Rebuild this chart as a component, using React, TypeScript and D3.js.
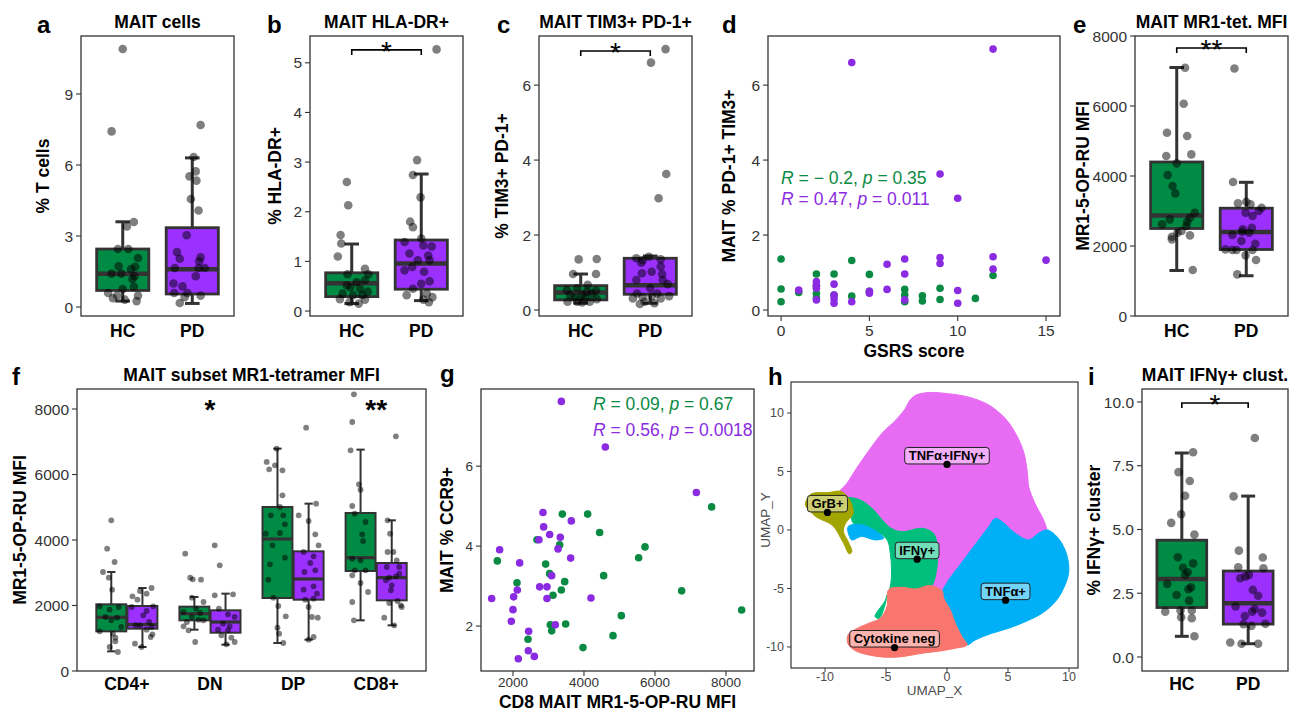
import React from 'react';
import * as d3 from 'd3';

const FONT = '"Liberation Sans", Arial, Helvetica, sans-serif';
const DARK = '#333333';
const GREEN = '#008b45';
const PURPLE = '#9b30ff';
const SC_GREEN = '#0a8a42';
const SC_PURPLE = '#8a2be2';

// ---------- data ----------
const groups = ['HC', 'PD'];
const subsets = ['CD4+', 'DN', 'DP', 'CD8+'];

// box stats: [lower whisker, q1, median, q3, upper whisker]
const aStats = [[0.25, 0.7, 1.4, 2.45, 3.6], [0.15, 0.55, 1.6, 3.35, 6.3]];
const bStats = [[0.15, 0.29, 0.56, 0.77, 1.35], [0.21, 0.44, 0.96, 1.43, 2.76]];
const cStats = [[0.18, 0.27, 0.47, 0.65, 0.96], [0.18, 0.42, 0.66, 1.38, 1.44]];
const eStats = [[1300, 2500, 2870, 4400, 7100], [1150, 1900, 2400, 3080, 3820]];
const iStats = [[0.81, 1.94, 3.06, 4.58, 8.0], [0.52, 1.29, 2.11, 3.37, 6.31]];
const fStatsHC = [[600, 1211, 1640, 2036, 3023], [1262, 1547, 1750, 1965, 2260], [855, 2229, 4031, 5008, 6790], [1547, 3054, 3461, 4825, 6760]];
const fStatsPD = [[733, 1293, 1420, 1985, 2535], [804, 1170, 1496, 1853, 2362], [957, 2178, 2810, 3654, 5110], [1395, 2158, 2850, 3298, 4601]];

// jittered points: [jitter in category units, value]
const aHC = [[0, 10.9], [-0.16, 7.42], [0.16, 3.59], [0.06, 3.4], [-0.07, 2.45], [0.08, 2.45], [0.22, 2.07], [-0.06, 1.72], [0.12, 1.6], [0.18, 1.7], [-0.16, 1.41], [-0.02, 1.41], [0.14, 1.18], [0.17, 1.3], [0.16, 0.85], [0, 0.76], [-0.21, 0.59], [-0.08, 0.48], [0.22, 0.48], [-0.14, 0.37], [0.03, 0.31], [0.2, 0.25]];
const aPD = [[0.12, 7.69], [0.02, 6.34], [0.05, 5.73], [0.06, 5.34], [-0.04, 5.52], [-0.02, 4.56], [0.09, 4.08], [-0.08, 3.03], [-0.22, 2.32], [-0.18, 2.04], [0.12, 2.1], [0.1, 1.93], [-0.25, 1.65], [0.09, 1.65], [0.18, 1.65], [0.05, 1.3], [-0.27, 0.99], [-0.14, 0.87], [-0.26, 0.59], [-0.07, 0.59], [0.12, 0.48], [-0.11, 0.41], [-0.18, 0.17]];
const bHC = [[-0.07, 2.6], [-0.05, 2.13], [-0.16, 1.53], [-0.15, 1.36], [-0.2, 1.1], [0.19, 0.85], [-0.06, 0.74], [0.24, 0.74], [0.07, 0.58], [0.19, 0.62], [-0.07, 0.52], [-0.02, 0.48], [0.12, 0.45], [0.23, 0.39], [-0.13, 0.35], [0.02, 0.32], [0.15, 0.32], [-0.17, 0.24], [-0.03, 0.18], [0.1, 0.15], [0.19, 0.23]];
const bPD = [[0.22, 5.27], [-0.06, 3.04], [-0.12, 2.74], [-0.01, 2.29], [-0.16, 1.8], [-0.12, 1.69], [-0.24, 1.39], [0, 1.46], [0.03, 1.32], [0.15, 1.3], [-0.17, 1.16], [0.1, 1.12], [-0.05, 1.02], [0.12, 1.02], [-0.24, 0.82], [-0.13, 0.89], [0.04, 0.79], [0.12, 0.6], [0, 0.55], [-0.12, 0.45], [0.08, 0.35], [-0.21, 0.32], [0.16, 0.28], [0.03, 0.23], [0.11, 0.18]];
const cHC = [[-0.03, 1.35], [0.23, 1.36], [-0.11, 0.96], [0.22, 0.96], [0.1, 0.67], [-0.2, 0.53], [-0.05, 0.58], [0.09, 0.49], [0.22, 0.52], [-0.15, 0.4], [0.02, 0.4], [0.16, 0.44], [-0.08, 0.33], [0.06, 0.31], [0.23, 0.29], [-0.19, 0.22], [-0.05, 0.22], [0.02, 0.2], [0.13, 0.22]];
const cPD = [[0.22, 6.96], [0.01, 6.6], [0.23, 3.63], [0.12, 2.98], [-0.02, 1.42], [-0.2, 1.38], [-0.11, 1.33], [0.15, 1.35], [-0.13, 1.26], [0.15, 1.16], [-0.12, 0.98], [0.02, 1.02], [0.17, 0.96], [-0.2, 0.8], [0.18, 0.8], [0.25, 0.69], [0, 0.58], [-0.19, 0.44], [0.1, 0.44], [-0.11, 0.34], [0.02, 0.36], [0.27, 0.37], [-0.25, 0.31], [0.15, 0.31], [-0.08, 0.22], [-0.15, 0.16], [0.06, 0.18]];
const eHC = [[0.12, 7092], [0.1, 6064], [-0.14, 5236], [0.15, 5141], [-0.15, 4570], [0.21, 4617], [0, 4360], [-0.13, 4027], [-0.06, 3713], [-0.02, 3503], [0.26, 2951], [0.19, 2808], [-0.1, 2761], [0.15, 2685], [-0.21, 2618], [0.14, 2570], [0.07, 2428], [0.01, 2380], [-0.07, 2266], [0.19, 2304], [-0.07, 2190], [0.23, 1314]];
const ePD = [[-0.17, 7073], [-0.19, 3827], [-0.12, 3218], [0, 3265], [0.06, 3190], [0.22, 3094], [0.18, 2999], [-0.01, 2951], [0.09, 2856], [-0.05, 2475], [0.08, 2523], [-0.2, 2313], [-0.06, 2409], [0.04, 2380], [-0.07, 2142], [0.13, 2066], [-0.3, 1904], [-0.2, 1885], [-0.14, 1885], [0.09, 1885], [-0.01, 1733], [0.14, 1600], [-0.13, 1190]];
const iHC = [[0.17, 8.03], [-0.05, 7.25], [0.12, 6.9], [0.05, 6.32], [-0.01, 5.6], [-0.16, 5.26], [0.19, 4.8], [-0.06, 3.91], [0.17, 3.67], [0.02, 3.5], [0.09, 3.32], [0.05, 3.22], [-0.22, 2.86], [0.14, 2.73], [0.1, 2.66], [-0.08, 2.43], [0.11, 2.21], [-0.25, 1.78], [-0.02, 1.82], [0.15, 1.82], [-0.01, 1.56], [0.15, 1.52], [0.19, 0.81]];
const iPD = [[0.1, 8.59], [-0.22, 6.3], [-0.14, 4.17], [0.22, 3.9], [-0.15, 3.52], [0.23, 3.48], [-0.12, 3.09], [-0.04, 3.15], [0.01, 3.22], [0.07, 2.63], [0.15, 2.4], [-0.19, 1.98], [0.1, 1.88], [0.21, 1.74], [-0.05, 1.61], [0.06, 1.78], [-0.07, 1.29], [0.26, 1.3], [0.05, 1.22], [-0.27, 0.57], [-0.1, 0.52], [0.15, 0.52]];

const fCd4HC = [[0, 4601], [-0.05, 3736], [0.04, 3329], [-0.1, 3023], [-0.03, 2850], [0.01, 2484], [-0.14, 1975], [-0.02, 1873], [0.09, 1954], [-0.07, 1649], [0.07, 1629], [0, 1547], [-0.14, 1211], [0.02, 1140], [0.12, 1344], [0.05, 1018], [-0.02, 733], [0.08, 580], [0.05, 906]];
const fCd4PD = [[0.11, 2535], [-0.03, 2443], [0.05, 2362], [-0.12, 2280], [-0.06, 2178], [-0.13, 1954], [0.13, 1975], [0.05, 1832], [0.01, 1700], [0.08, 1496], [-0.03, 1395], [0.11, 1344], [0.05, 1262], [0.1, 1038], [-0.09, 835], [-0.01, 733], [0.12, 1120], [-0.08, 1400]];
const fDnHC = [[-0.11, 3583], [-0.05, 2850], [-0.02, 2800], [0.08, 2789], [-0.03, 2240], [0.11, 2107], [-0.13, 1802], [0.02, 1904], [0.07, 1771], [-0.03, 1649], [-0.09, 1496], [0.05, 1568], [0.11, 1547], [-0.07, 1242], [0.01, 885], [-0.13, 1364]];
const fDnPD = [[-0.13, 3838], [-0.07, 3227], [-0.13, 2311], [0.09, 2341], [-0.08, 1904], [0.03, 1731], [0.11, 1649], [-0.03, 1446], [0.05, 1364], [-0.09, 1262], [0.03, 1242], [-0.05, 1089], [0.07, 1018], [0.11, 885], [0.01, 814]];
const fDpHC = [[-0.13, 6383], [-0.01, 6790], [-0.1, 6159], [-0.03, 6281], [0.06, 6128], [0.06, 5365], [0.03, 5008], [-0.08, 4754], [0.07, 4754], [0.09, 4479], [-0.14, 4194], [0.03, 4214], [-0.06, 3838], [0.09, 3461], [-0.09, 3258], [-0.11, 2789], [-0.05, 2240], [0.01, 1985], [0.1, 1670], [0, 1323], [0.02, 1140], [0.07, 855]];
const fDpPD = [[-0.03, 7431], [0.09, 5110], [-0.12, 4754], [0, 4581], [0.08, 4174], [0.12, 3838], [-0.06, 3634], [0.06, 3502], [0.02, 3298], [0.08, 3074], [-0.05, 3023], [0.06, 2586], [-0.06, 2484], [0.1, 2362], [-0.04, 2178], [0.06, 2209], [0, 1954], [0.04, 1649], [0.11, 1629], [0.06, 1038], [0, 957]];
const fCd8HC = [[-0.08, 8449], [-0.1, 7604], [-0.12, 6739], [-0.02, 5700], [0, 5538], [-0.1, 5039], [-0.07, 4805], [0.06, 4550], [0.02, 4174], [0.03, 3970], [-0.1, 3431], [0, 3380], [-0.07, 3074], [0.06, 3074], [-0.1, 2922], [0, 2687], [0.09, 2413], [-0.1, 2107], [-0.08, 1547]];
const fCd8PD = [[0.05, 7167], [-0.05, 4601], [-0.02, 4194], [-0.05, 3634], [0.02, 3634], [0.06, 3380], [-0.06, 3176], [0.09, 3176], [0.09, 2973], [-0.03, 2850], [0.05, 2891], [-0.07, 2769], [0, 2616], [-0.01, 2464], [-0.03, 2077], [0.11, 2005], [0.07, 2138], [-0.09, 1629], [0.03, 1395], [0.12, 1954]];
const fPointsHC = [fCd4HC, fDnHC, fDpHC, fCd8HC];
const fPointsPD = [fCd4PD, fDnPD, fDpPD, fCd8PD];

// d: [GSRS score, % PD-1+ TIM3+]
const dHC = [[0, 1.36], [0, 0.56], [0, 0.22], [1, 0.47], [2, 0.96], [2, 0.65], [2, 0.44], [2, 0.32], [3, 0.96], [3, 0.4], [4, 1.32], [4, 0.37], [5, 0.95], [5, 0.5], [7, 0.55], [7, 0.4], [7, 0.22], [8, 0.38], [8, 0.24], [9, 0.58], [9, 0.28], [11, 0.31], [12, 0.92]];
const dPD = [[1, 0.53], [2, 0.76], [2, 0.65], [2, 0.58], [2, 0.27], [3, 0.69], [3, 0.4], [3, 0.3], [3, 0.18], [4, 6.6], [4, 0.22], [5, 0.5], [5, 0.45], [6, 1.22], [6, 0.55], [7, 1.36], [7, 0.96], [7, 0.27], [9, 3.63], [9, 1.4], [9, 1.24], [10, 2.98], [10, 0.52], [10, 0.18], [12, 6.96], [12, 1.42], [12, 1.09], [15, 1.33]];

// g: [CD8 MAIT MR1-5-OP-RU MFI, % CCR9+]
const gHC = [[7596, 4.98], [3390, 4.8], [4103, 4.8], [4441, 4.34], [2676, 4.16], [3315, 4.03], [5719, 3.98], [5540, 3.71], [1559, 3.63], [2920, 3.55], [3033, 3.31], [4554, 3.26], [3456, 3.11], [2113, 3.08], [3362, 2.9], [3127, 2.77], [6751, 2.88], [8441, 2.4], [5052, 2.26], [3052, 2.03], [3484, 2.05], [3090, 1.88], [4817, 1.76], [2423, 1.67], [3972, 1.46]];
const gPD = [[3362, 7.62], [4601, 6.48], [7165, 5.34], [2845, 4.84], [3643, 4.63], [2864, 4.48], [3033, 4.29], [3333, 4.22], [2732, 4.16], [3268, 3.93], [1624, 3.91], [3624, 3.7], [2188, 3.58], [3090, 3.26], [2751, 2.98], [2958, 2.98], [2122, 2.9], [2019, 2.73], [1399, 2.69], [2958, 2.69], [4197, 2.7], [2000, 2.41], [1953, 2.12], [3193, 2.03], [2441, 1.87], [2432, 1.38], [2601, 1.24], [2150, 1.18]];

// h: UMAP cluster outlines (UMAP_X, UMAP_Y)
const umapMagenta = [[-8.8, 3.2], [-8.2, 4.0], [-7.4, 5.3], [-6.4, 6.8], [-5.3, 8.3], [-4.2, 9.4], [-3.4, 10.4], [-3.1, 11.0], [-2.6, 11.5], [-1.5, 11.75], [0.1, 11.65], [1.8, 11.35], [3.4, 10.7], [4.8, 9.5], [5.7, 8.1], [6.3, 6.6], [6.6, 4.8], [6.7, 3.7], [7.2, 2.3], [7.9, 0.9], [8.2, 0.0], [8.5, -2], [5, -5], [0.5, -6], [-1.5, -5.0], [-3, -2], [-4.5, -1], [-6, 0.6], [-7.5, 1.5], [-8.3, 2.4]];
const umapBlue = [[-0.41, -5.41], [0.14, -4.27], [0.96, -3.13], [1.78, -1.99], [2.6, -0.85], [3.42, 0.28], [3.96, 1.0], [4.51, 0.71], [5.6, -0.28], [6.7, -0.85], [7.51, -0.28], [8.2, 0], [8.88, -0.43], [9.56, -1.43], [9.92, -2.56], [9.97, -3.7], [9.56, -4.98], [8.88, -6.13], [7.79, -7.12], [6.42, -7.84], [5.06, -8.4], [3.69, -8.83], [2.32, -9.4], [1.64, -9.83], [1.23, -9.12], [0.68, -7.98], [0.27, -6.84], [-0.27, -5.84]];
const umapGreen = [[-8.2, 2.7], [-7.2, 2.6], [-6.15, 1.85], [-5.3, 0.85], [-4.6, 0.15], [-3.7, -0.15], [-2.05, 0.15], [-1.1, -0.3], [-0.8, -1.4], [-0.9, -3.7], [-1.4, -5.0], [-2.6, -5.4], [-4.8, -5.4], [-5.05, -6.3], [-5.55, -7.55], [-5.9, -7.4], [-5.05, -6.0], [-4.65, -4.85], [-4.55, -3.4], [-4.65, -2.0], [-4.9, -0.85], [-5.75, -0.15], [-7.0, 0.3], [-7.7, 0.6], [-7.9, 1.4]];
const umapSalmon = [[-5.47, -7.55], [-4.92, -6.55], [-4.78, -5.1], [-3.69, -4.9], [-2.6, -5.05], [-1.37, -4.75], [-0.41, -5.2], [-0.27, -5.84], [0.27, -6.84], [0.68, -7.98], [1.23, -9.12], [1.64, -9.83], [0.68, -10.11], [-0.41, -10.32], [-2.05, -10.54], [-3.69, -10.83], [-5.05, -10.88], [-6.42, -10.68], [-7.51, -10.32], [-8.11, -9.74], [-8.11, -8.97], [-7.51, -8.49], [-6.42, -7.98]];
const umapOlive = [[-11.6, 2.1], [-11.5, 2.6], [-11.1, 3.1], [-9.7, 3.2], [-8.7, 3.3], [-8.0, 2.6], [-7.7, 1.4], [-8.3, 0.6], [-8.5, -0.1], [-8.1, -1.0], [-7.8, -1.85], [-8.0, -2.05], [-8.55, -1.0], [-9.4, 0.4], [-10.7, 1.1], [-11.3, 1.7]];
const umapBluePatch = [[-8.1, 0.3], [-7.0, 0.45], [-5.75, -0.15], [-5.2, -0.7], [-5.9, -0.85], [-7.0, -0.55], [-7.8, -0.85], [-8.0, -0.55]];
const umapLabels = ['TNFα+IFNγ+', 'GrB+', 'IFNγ+', 'TNFα+', 'Cytokine neg'];
const umapLabelX = [0, -9.8, -2.45, 4.8, -4.3];
const umapLabelY = [5.6, 1.5, -2.5, -6.0, -10.05];
const umapColors = ['#E76BF3', '#A3A500', '#00BF7D', '#00B0F6', '#F8766D'];

// ---------- helpers ----------
const ctx = typeof document !== 'undefined' ? document.createElement('canvas').getContext('2d') : null;
function textWidth(s: string, font: string) {
  if (!ctx) return s.length * 7;
  ctx.font = font;
  return ctx.measureText(s).width;
}

function YLabel({ x, y, text, size = 17.5, bold = true, fill = '#000' }: any) {
  return (
    <text transform={`translate(${x},${y}) rotate(-90)`} dy="0.35em" textAnchor="middle"
      fontSize={size} fontWeight={bold ? 'bold' : 'normal'} fill={fill}>{text}</text>
  );
}

function LeftAxis({ y, ticks, x0, fmt, size, color = DARK, len = 5 }: any) {
  return (
    <g>
      {ticks.map((t: number) => (
        <g key={t}>
          <line x1={x0 - len} x2={x0} y1={y(t)} y2={y(t)} stroke={color} strokeWidth={1.1} />
          <text x={x0 - len - 3} y={y(t)} dy="0.36em" textAnchor="end" fontSize={size} fill={color}>{fmt(t)}</text>
        </g>
      ))}
    </g>
  );
}

function BottomAxis({ x, ticks, y1, fmt, size, color = DARK, len = 5, labelY }: any) {
  return (
    <g>
      {ticks.map((t: number) => (
        <g key={t}>
          <line x1={x(t)} x2={x(t)} y1={y1} y2={y1 + len} stroke={color} strokeWidth={1.1} />
          <text x={x(t)} y={labelY} textAnchor="middle" fontSize={size} fill={color}>{fmt(t)}</text>
        </g>
      ))}
    </g>
  );
}

function Stat({ children, color, x, y }: any) {
  return <text x={x} y={y} fontSize={17.5} fill={color}>{children}</text>;
}

// ---------- box panel ----------
function BoxPanel(p: any) {
  const fr = p.fr;
  const x = d3.scaleLinear().domain([0.4, p.cats.length + 0.6]).range([fr.x0, fr.x1]);
  const y = d3.scaleLinear().domain(p.yDomain).range([fr.y1, fr.y0]);
  const sz = p.sz;
  const px = (u: number) => x(u) - x(0);
  return (
    <g>
      <text x={p.letterX} y={p.letterY} fontSize={24} fontWeight="bold">{p.letter}</text>
      <text x={(fr.x0 + fr.x1) / 2} y={p.titleY} textAnchor="middle" fontSize={17.5} fontWeight="bold">{p.title}</text>
      <LeftAxis y={y} ticks={p.yTicks} x0={fr.x0} fmt={p.fmt} size={15.5} />
      {p.cats.map((c: string, i: number) => (
        <text key={c} x={x(i + 1)} y={p.catY} textAnchor="middle" fontSize={17.5} fontWeight="bold">{c}</text>
      ))}
      <YLabel x={p.ylabX} y={(fr.y0 + fr.y1) / 2} text={p.ylab} />
      {p.boxes.map((b: any, i: number) => {
        const cx = x(b.pos);
        const hw = px(b.w) / 2;
        const cw = px(sz.cap) / 2;
        const [lo, q1, med, q3, hi] = b.s;
        return (
          <g key={i}>
            <line x1={cx} x2={cx} y1={y(hi)} y2={y(q3)} stroke={DARK} strokeWidth={sz.wh} />
            <line x1={cx} x2={cx} y1={y(q1)} y2={y(lo)} stroke={DARK} strokeWidth={sz.wh} />
            <line x1={cx - cw} x2={cx + cw} y1={y(hi)} y2={y(hi)} stroke={DARK} strokeWidth={sz.wh} />
            <line x1={cx - cw} x2={cx + cw} y1={y(lo)} y2={y(lo)} stroke={DARK} strokeWidth={sz.wh} />
            <rect x={cx - hw} y={y(q3)} width={2 * hw} height={y(q1) - y(q3)} fill={b.fill} stroke={DARK} strokeWidth={sz.box} />
            <line x1={cx - hw} x2={cx + hw} y1={y(med)} y2={y(med)} stroke={DARK} strokeWidth={sz.med} />
          </g>
        );
      })}
      {p.boxes.map((b: any, i: number) => (
        <g key={'p' + i}>
          {b.pts.map((d: number[], j: number) => (
            <circle key={j} cx={x(b.pos + d[0])} cy={y(d[1])} r={sz.r} fill="#000" fillOpacity={0.5} />
          ))}
        </g>
      ))}
      {p.sig && (
        <g>
          <path d={`M${x(p.sig.a)},${y(p.sig.v) + 5}V${y(p.sig.v)}H${x(p.sig.b)}V${y(p.sig.v) + 5}`}
            fill="none" stroke="#000" strokeWidth={1.6} />
          <text x={(x(p.sig.a) + x(p.sig.b)) / 2} y={y(p.sig.v) + 11} textAnchor="middle" fontSize={28}>{p.sig.label}</text>
        </g>
      )}
      {p.stars && p.stars.map((s: any) => (
        <text key={s.pos} x={x(s.pos)} y={y(s.v) + 16} textAnchor="middle" fontSize={28} fontWeight="bold">{s.label}</text>
      ))}
      <rect x={fr.x0} y={fr.y0} width={fr.x1 - fr.x0} height={fr.y1 - fr.y0} fill="none" stroke={DARK} strokeWidth={1.3} />
    </g>
  );
}

const topSz = { r: 4.3, box: 2.8, med: 4.5, wh: 3, cap: 0.21 };
const fSz = { r: 2.9, box: 2, med: 3.2, wh: 2, cap: 0.1 };
const twoBoxes = (stats: number[][], hc: number[][], pd: number[][]) => [
  { pos: 1, w: 0.75, fill: GREEN, s: stats[0], pts: hc },
  { pos: 2, w: 0.75, fill: PURPLE, s: stats[1], pts: pd },
];
const fBoxes = subsets.flatMap((_, i) => [
  { pos: i + 1 - 0.1875, w: 0.36, fill: GREEN, s: fStatsHC[i], pts: fPointsHC[i] },
  { pos: i + 1 + 0.1875, w: 0.36, fill: PURPLE, s: fStatsPD[i], pts: fPointsPD[i] },
]);

// ---------- scatter panels ----------
function PanelD() {
  const fr = { x0: 768, x1: 1060, y0: 36, y1: 316 };
  const x = d3.scaleLinear().domain([-0.74, 15.79]).range([fr.x0, fr.x1]);
  const y = d3.scaleLinear().domain([-0.16, 7.31]).range([fr.y1, fr.y0]);
  return (
    <g>
      <text x={722} y={33} fontSize={24} fontWeight="bold">d</text>
      <LeftAxis y={y} ticks={[0, 2, 4, 6]} x0={fr.x0} fmt={String} size={15.5} />
      <BottomAxis x={x} ticks={[0, 5, 10, 15]} y1={fr.y1} fmt={String} size={15.5} labelY={336} />
      <YLabel x={729} y={176} text="MAIT % PD-1+ TIM3+" />
      <text x={(fr.x0 + fr.x1) / 2} y={357} textAnchor="middle" fontSize={17.5} fontWeight="bold">GSRS score</text>
      {dHC.map((d, i) => <circle key={'h' + i} cx={x(d[0])} cy={y(d[1])} r={3.8} fill={SC_GREEN} />)}
      {dPD.map((d, i) => <circle key={'p' + i} cx={x(d[0])} cy={y(d[1])} r={3.8} fill={SC_PURPLE} />)}
      <Stat x={x(0)} y={184} color={SC_GREEN}><tspan fontStyle="italic">R</tspan> = − 0.2, <tspan fontStyle="italic">p</tspan> = 0.35</Stat>
      <Stat x={x(0)} y={205} color={SC_PURPLE}><tspan fontStyle="italic">R</tspan> = 0.47, <tspan fontStyle="italic">p</tspan> = 0.011</Stat>
      <rect x={fr.x0} y={fr.y0} width={fr.x1 - fr.x0} height={fr.y1 - fr.y0} fill="none" stroke={DARK} strokeWidth={1.3} />
    </g>
  );
}

function PanelG() {
  const fr = { x0: 481, x1: 754, y0: 389, y1: 671 };
  const x = d3.scaleLinear().domain([1099, 8789]).range([fr.x0, fr.x1]);
  const y = d3.scaleLinear().domain([0.875, 7.93]).range([fr.y1, fr.y0]);
  return (
    <g>
      <text x={440} y={382} fontSize={24} fontWeight="bold">g</text>
      <LeftAxis y={y} ticks={[2, 4, 6]} x0={fr.x0} fmt={String} size={13.5} />
      <BottomAxis x={x} ticks={[2000, 4000, 6000, 8000]} y1={fr.y1} fmt={String} size={13.5} labelY={687} />
      <YLabel x={447} y={530} text="MAIT % CCR9+" />
      <text x={(fr.x0 + fr.x1) / 2} y={708} textAnchor="middle" fontSize={17.5} fontWeight="bold">CD8 MAIT MR1-5-OP-RU MFI</text>
      {gHC.map((d, i) => <circle key={'h' + i} cx={x(d[0])} cy={y(d[1])} r={3.8} fill={SC_GREEN} />)}
      {gPD.map((d, i) => <circle key={'p' + i} cx={x(d[0])} cy={y(d[1])} r={3.8} fill={SC_PURPLE} />)}
      <Stat x={593} y={410} color={SC_GREEN}><tspan fontStyle="italic">R</tspan> = 0.09, <tspan fontStyle="italic">p</tspan> = 0.67</Stat>
      <Stat x={593} y={436} color={SC_PURPLE}><tspan fontStyle="italic">R</tspan> = 0.56, <tspan fontStyle="italic">p</tspan> = 0.0018</Stat>
      <rect x={fr.x0} y={fr.y0} width={fr.x1 - fr.x0} height={fr.y1 - fr.y0} fill="none" stroke={DARK} strokeWidth={1.3} />
    </g>
  );
}

// ---------- UMAP ----------
function PanelH() {
  const fr = { x0: 791, x1: 1078, y0: 382, y1: 668 };
  const x = d3.scaleLinear().domain([-12.79, 10.74]).range([fr.x0, fr.x1]);
  const y = d3.scaleLinear().domain([-11.8, 12.65]).range([fr.y1, fr.y0]);
  const line = d3.line<number[]>().x((d) => x(d[0])).y((d) => y(d[1])).curve(d3.curveCatmullRomClosed.alpha(0.5));
  const regions: [number[][], string][] = [
    [umapMagenta, umapColors[0]],
    [umapBlue, umapColors[3]],
    [umapGreen, umapColors[2]],
    [umapSalmon, umapColors[4]],
    [umapOlive, umapColors[1]],
    [umapBluePatch, umapColors[3]],
  ];
  const gray = '#4d4d4d';
  const lf = 'bold 13px "Liberation Sans", Arial, sans-serif';
  return (
    <g>
      <text x={768} y={385} fontSize={24} fontWeight="bold">h</text>
      <defs>
        <clipPath id="umapClip"><rect x={fr.x0} y={fr.y0} width={fr.x1 - fr.x0} height={fr.y1 - fr.y0} /></clipPath>
      </defs>
      <g clipPath="url(#umapClip)">
        {regions.map(([pts, c], i) => <path key={i} d={line(pts) || ''} fill={c} stroke={c} strokeWidth={1} />)}
      </g>
      {umapLabels.map((lab, i) => {
        const cx = x(umapLabelX[i]);
        const cy = y(umapLabelY[i]);
        const w = textWidth(lab, lf) + 8;
        const fill = d3.interpolateRgb(umapColors[i], '#ffffff')(0.45);
        return (
          <g key={lab}>
            <rect x={cx - w / 2} y={cy - 17} width={w} height={16.5} rx={3} fill={fill} stroke="#222" strokeWidth={1} />
            <text x={cx} y={cy - 4.5} textAnchor="middle" fontSize={13} fontWeight="bold" fill="#000">{lab}</text>
            <circle cx={cx} cy={cy} r={3.6} fill="#000" />
          </g>
        );
      })}
      <LeftAxis y={y} ticks={[-10, -5, 0, 5, 10]} x0={fr.x0} fmt={String} size={12.5} color={gray} len={4} />
      <BottomAxis x={x} ticks={[-10, -5, 0, 5, 10]} y1={fr.y1} fmt={String} size={12.5} color={gray} len={4} labelY={681} />
      <YLabel x={765} y={520} text="UMAP_Y" size={13.5} bold={false} fill={gray} />
      <text x={(fr.x0 + fr.x1) / 2} y={695} textAnchor="middle" fontSize={13.5} fill={gray}>UMAP_X</text>
      <rect x={fr.x0} y={fr.y0} width={fr.x1 - fr.x0} height={fr.y1 - fr.y0} fill="none" stroke={DARK} strokeWidth={1.2} />
    </g>
  );
}

export default function App() {
  const f1 = (d: number) => d.toFixed(1);
  return (
    <div style={{ position: 'absolute', left: 0, top: 0 }}>
      <svg width={1290} height={712} style={{ display: 'block', background: '#fff', fontFamily: FONT }}>
        <BoxPanel fr={{ x0: 81, x1: 234, y0: 36, y1: 316 }} yDomain={[-0.38, 11.45]} yTicks={[0, 3, 6, 9]} fmt={String}
          cats={groups} boxes={twoBoxes(aStats, aHC, aPD)} title="MAIT cells" titleY={28} catY={337}
          ylab="% T cells" ylabX={43} letter="a" letterX={37} letterY={33} sz={topSz} />
        <BoxPanel fr={{ x0: 310, x1: 463, y0: 36, y1: 316 }} yDomain={[-0.1, 5.54]} yTicks={[0, 1, 2, 3, 4, 5]} fmt={String}
          cats={groups} boxes={twoBoxes(bStats, bHC, bPD)} title="MAIT HLA-DR+" titleY={28} catY={337}
          ylab="% HLA-DR+" ylabX={275} letter="b" letterX={267} letterY={33} sz={topSz}
          sig={{ a: 1, b: 2, v: 5.26, label: '*' }} />
        <BoxPanel fr={{ x0: 539, x1: 692, y0: 36, y1: 316 }} yDomain={[-0.16, 7.31]} yTicks={[0, 2, 4, 6]} fmt={String}
          cats={groups} boxes={twoBoxes(cStats, cHC, cPD)} title="MAIT TIM3+ PD-1+" titleY={28} catY={337}
          ylab="% TIM3+ PD-1+" ylabX={502} letter="c" letterX={497} letterY={33} sz={topSz}
          sig={{ a: 1, b: 2, v: 6.91, label: '*' }} />
        <PanelD />
        <BoxPanel fr={{ x0: 1135, x1: 1288, y0: 36, y1: 316 }} yDomain={[0, 8000]} yTicks={[0, 2000, 4000, 6000, 8000]} fmt={String}
          cats={groups} boxes={twoBoxes(eStats, eHC, ePD)} title="MAIT MR1-tet. MFI" titleY={28} catY={337}
          ylab="MR1-5-OP-RU MFI" ylabX={1083} letter="e" letterX={1073} letterY={33} sz={topSz}
          sig={{ a: 1, b: 2, v: 7657, label: '**' }} />
        <BoxPanel fr={{ x0: 77, x1: 426, y0: 389, y1: 671 }} yDomain={[0, 8611]} yTicks={[0, 2000, 4000, 6000, 8000]} fmt={String}
          cats={subsets} boxes={fBoxes} title="MAIT subset MR1-tetramer MFI" titleY={381} catY={690}
          ylab="MR1-5-OP-RU MFI" ylabX={20} letter="f" letterX={12} letterY={385} sz={fSz}
          stars={[{ pos: 2, v: 8180, label: '*' }, { pos: 4, v: 8180, label: '**' }]} />
        <PanelG />
        <PanelH />
        <BoxPanel fr={{ x0: 1142, x1: 1288, y0: 389, y1: 671 }} yDomain={[-0.55, 10.51]} yTicks={[0, 2.5, 5, 7.5, 10]} fmt={f1}
          cats={groups} boxes={twoBoxes(iStats, iHC, iPD)} title="MAIT IFNγ+ clust." titleY={381} catY={690}
          ylab="% IFNγ+ cluster" ylabX={1094} letter="i" letterX={1088} letterY={385} sz={topSz}
          sig={{ a: 1, b: 2, v: 9.96, label: '*' }} />
      </svg>
    </div>
  );
}
